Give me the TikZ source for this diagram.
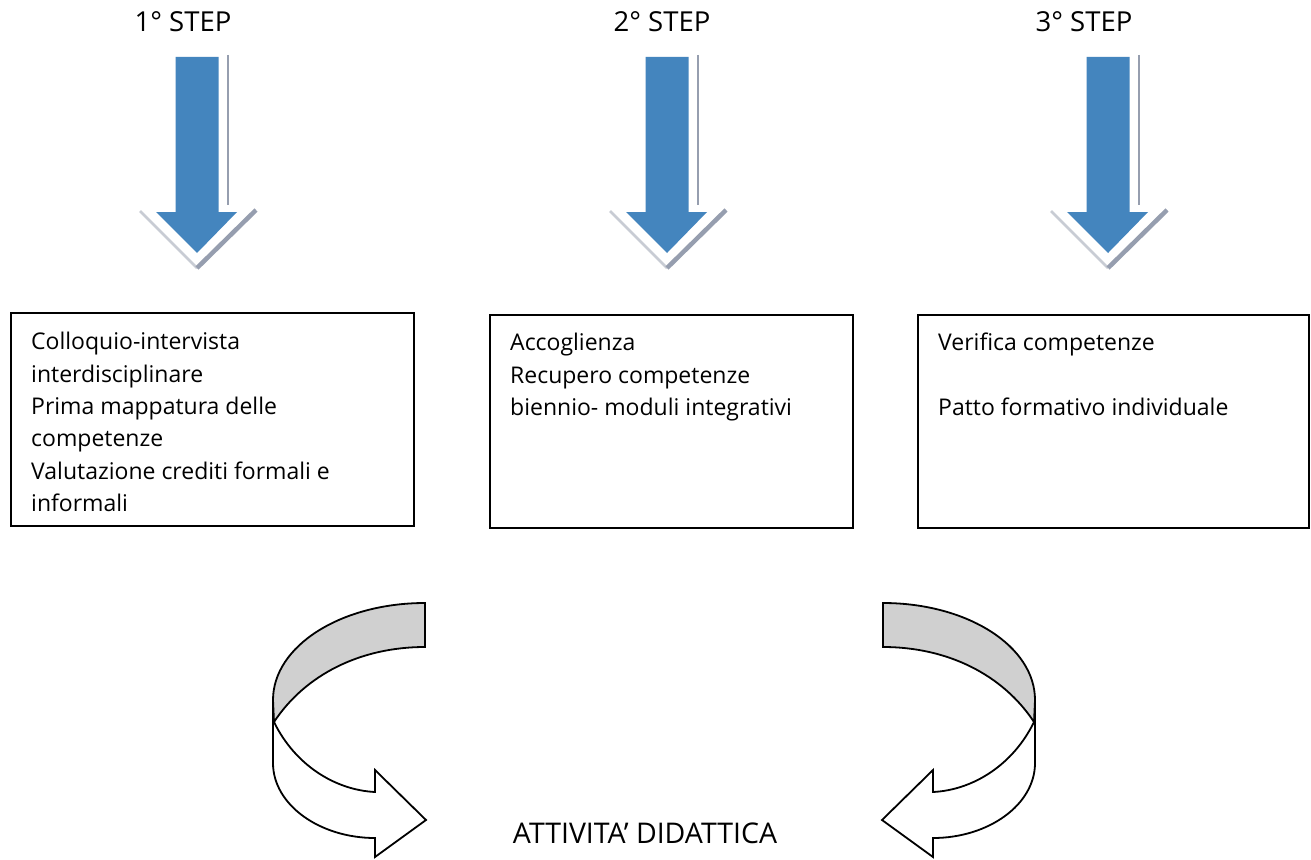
\documentclass[tikz,border=0pt]{standalone}
\usepackage{fontspec}
\setmainfont{Open Sans}
\definecolor{arrowblue}{RGB}{68,133,190}
\definecolor{shadowgrey}{RGB}{150,158,175}
\definecolor{lightshadow}{RGB}{200,204,212}
\definecolor{ribbongrey}{RGB}{208,208,208}
\begin{document}
\begin{tikzpicture}[x=1pt,y=-1pt,
  steplabel/.style={font=\fontsize{27.5}{32}\selectfont, inner sep=0pt, anchor=base},
  bigtext/.style={font=\fontsize{28.5}{32}\selectfont, inner sep=0pt, anchor=base},
  boxframe/.style={draw=black, line width=1.6pt, inner sep=0pt, anchor=north west},
  boxtext/.style={font=\fontsize{23}{32.4}\selectfont, align=left, inner sep=0pt, anchor=north west},
  ribbon/.style={draw=black, line width=1.8pt, line join=miter},
  steparrow/.pic={
    \fill[arrowblue] (-21.5,0) -- (21.5,0) -- (21.5,155) -- (40,155) -- (0,196) -- (-41,155) -- (-21.5,155) -- cycle;
    \draw[shadowgrey, line width=2.6pt] (31,-2) -- (31,148);
    \draw[lightshadow, line width=2.6pt] (-57,154) -- (0,211);
    \draw[shadowgrey, line width=4.5pt] (0,211) -- (59,153);
  }]
\useasboundingbox (0,0) rectangle (1311,859);
\fill[white] (0,0) rectangle (1311,859);

% step labels
\node[steplabel] (s1) at (183,32) {1° STEP};
\node[steplabel] (s2) at (662,32) {2° STEP};
\node[steplabel] (s3) at (1084,32) {3° STEP};

% down arrows
\pic at (197,57) {steparrow};
\pic at (667,57) {steparrow};
\pic at (1108,57) {steparrow};

% boxes
\node[boxframe, minimum width=403pt, minimum height=213pt] (b1) at (10,312) {};
\node[boxframe, minimum width=363pt, minimum height=213pt] (b2) at (489,314) {};
\node[boxframe, minimum width=391pt, minimum height=213pt] (b3) at (917,314) {};

\node[boxtext] (t1) at (31,332) {Colloquio-intervista\\interdisciplinare\\Prima mappatura delle\\competenze\\Valutazione crediti formali e\\informali};
\node[boxtext] (t2) at (510,333) {Accoglienza\\Recupero competenze\\biennio- moduli integrativi};
\node[boxtext] (t3) at (938,333) {Verifica competenze\\[32.4pt]Patto formativo individuale};

% curved ribbons
\begin{scope}
  \filldraw[ribbon, fill=white] (273,700) -- (273,763) .. controls (273,805) and (320,838) .. (375,838) -- (375,857) -- (426,820) -- (375,770) -- (375,792) .. controls (335,790) and (295,765) .. (274,722) -- cycle;
  \filldraw[ribbon, fill=ribbongrey] (425,603) .. controls (341,603) and (273,646) .. (273,700) -- (274,722) .. controls (305,675) and (360,647) .. (425,647) -- cycle;
\end{scope}
\begin{scope}[xshift=1308pt, xscale=-1]
  \filldraw[ribbon, fill=white] (273,700) -- (273,763) .. controls (273,805) and (320,838) .. (375,838) -- (375,857) -- (426,820) -- (375,770) -- (375,792) .. controls (335,790) and (295,765) .. (274,722) -- cycle;
  \filldraw[ribbon, fill=ribbongrey] (425,603) .. controls (341,603) and (273,646) .. (273,700) -- (274,722) .. controls (305,675) and (360,647) .. (425,647) -- cycle;
\end{scope}

\node[bigtext] (act) at (645,843) {ATTIVITA’ DIDATTICA};
\end{tikzpicture}
\end{document}
